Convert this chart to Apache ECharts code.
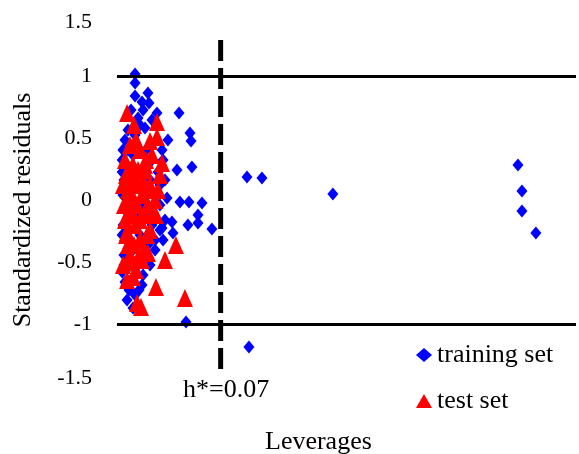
<!DOCTYPE html>
<html>
<head>
<meta charset="utf-8">
<script src="https://cdn.jsdelivr.net/npm/echarts@6/dist/echarts.min.js"></script>
<style>html,body{margin:0;padding:0;background:#fff}#c{width:579px;height:454px}</style>
</head>
<body>
<div id="c"></div>
<script>
// Leverage (x) and standardized residual (y) — training set
var trainLev = [0.0122,0.0122,0.0209,0.0122,0.0169,0.0216,0.0270,0.0419,0.0493,0.0500,0.0506,0.0405,0.0425,0.0486,0.0574,0.0547,0.0479,0.0547,0.0641,0.0338,0.0324,0.0371,0.0304,0.0378,0.0311,0.0466,0.0891,0.0878,0.0979,0.1458,0.2708,0.2735,0.2735,0.2829,
  0.0054,0.0040,0.0068,0.0047,0.0040,0.0054,0.0041,0.0061,0.0047,0.0074,0.0054,0.0081,0.0108,0.0047,0.0155,0.0196,0.0236,0.0277,0.0223,0.0189,0.0257,0.0290,0.0203,0.0236,0.0155,0.0209,0.0257,0.0142,0.0176,0.0122,0.0290,0.0324,
  0.0095,0.0142,0.0074,0.0108,0.0035,0.0088,0.0128,0.0035,0.0108,0.0035,0.0169,0.0304,0.0344,0.0176,
  0.0035,0.0074,0.0122,0.0189,0.0236,0.0270,0.0311,0.0290,0.0223,0.0095,0.0149,0.0068,0.0257,0.0182];
var trainRes = [1.016,0.944,0.863,0.839,0.790,0.782,0.702,0.702,0.540,0.476,0.266,0.242,-0.016,-0.016,-0.024,-0.121,-0.202,-0.185,-0.234,0.016,-0.161,-0.177,-0.226,-0.266,-0.323,-0.984,-1.185,0.185,0.177,0.048,0.282,0.073,-0.089,-0.266,
  0.484,0.403,0.282,0.161,0.040,-0.081,-0.202,-0.323,-0.444,-0.548,-0.661,-0.726,-0.871,-0.524,0.605,0.403,0.323,0.226,0.161,0.081,0.040,-0.040,-0.097,-0.202,-0.282,-0.363,-0.403,-0.500,-0.605,-0.766,0.121,0.161,
  0.726,0.661,0.565,0.363,0.226,0.000,-0.121,-0.282,-0.403,-0.581,-0.685,0.403,0.484,0.726,
  0.323,0.403,0.524,0.581,0.645,0.484,0.323,-0.242,-0.524,-0.645,-0.726,-0.806,-0.323,-0.040];
// Test set
var testLev = [0.0068,0.0270,0.0115,0.0270,0.0223,0.0304,0.0398,0.0324,0.0263,0.0459,0.0135,0.0162,0.0068,0.0108,0.0142,0.0209,
  0.0054,0.0088,0.0155,0.0189,0.0122,0.0074,0.0169,0.0223,0.0135,0.0088,0.0189,0.0054,0.0257,0.0122,0.0223,0.0155,0.0074,0.0189,0.0101,0.0142,0.0209,0.0068,0.0243,0.0290,0.0169,0.0101,0.0088,0.0236,0.0074,
  0.0040,0.0061,0.0108,0.0142,0.0176,0.0203,0.0047,0.0108,0.0155,0.0061,0.0115,0.0182,0.0088,0.0040,0.0128,0.0203,0.0263,0.0277,0.0128,0.0196];
var testRes = [0.702,0.629,0.605,0.508,0.476,0.298,-0.363,-0.484,-0.702,-0.790,-0.831,-0.863,-0.645,-0.621,-0.468,-0.427,
  0.323,0.242,0.403,0.282,0.161,0.081,0.040,0.121,-0.040,-0.081,-0.121,-0.161,0.000,-0.202,-0.242,-0.323,-0.363,0.242,0.040,0.121,-0.040,-0.258,-0.121,0.202,-0.484,-0.500,0.444,0.363,0.000,
  0.121,0.202,0.282,0.242,0.161,0.081,-0.040,-0.121,-0.161,-0.282,-0.363,-0.403,-0.444,-0.524,-0.565,-0.282,-0.121,0.081,0.484,0.323];
var hStar = 0.07;
var hStarSpan = [1.29, -1.37];
var refLines = [1, -1];
var yTicks = [-1.5, -1, -0.5, 0, 0.5, 1, 1.5];

function zip(a, b) { return a.map(function (v, i) { return [v, b[i]]; }); }
var F = 'Liberation Serif';
var chart = echarts.init(document.getElementById('c'));
chart.setOption({
  animation: false,
  backgroundColor: '#fff',
  grid: { left: 117, right: 3, top: 14, bottom: 68 },
  xAxis: { type: 'value', min: 0, max: 0.31, axisLine: { show: false }, axisTick: { show: false }, axisLabel: { show: false }, splitLine: { show: false } },
  yAxis: { type: 'value', min: yTicks[0], max: yTicks[yTicks.length - 1], interval: 0.5,
    axisLine: { show: false }, axisTick: { show: false }, splitLine: { show: false },
    axisLabel: { fontFamily: F, fontSize: 22, color: '#000', margin: 25,
      formatter: function (v) {
        if (v === yTicks[yTicks.length - 1]) return '{t|' + v + '}';
        if (v === yTicks[0]) return '{b|' + v + '}';
        return String(v);
      },
      rich: {
        t: { fontFamily: F, fontSize: 22, color: '#000', padding: [17, 0, 0, 0] },
        b: { fontFamily: F, fontSize: 22, color: '#000', padding: [0, 0, 15, 0] }
      } } },
  legend: { data: ['training set', 'test set'], orient: 'vertical', left: 411, top: 337, itemWidth: 16, itemHeight: 14, itemGap: 20,
    textStyle: { fontFamily: F, fontSize: 26, color: '#000' } },
  graphic: [
    { type: 'text', x: 23, y: 210, rotation: Math.PI / 2, style: { text: 'Standardized residuals', font: '26px "Liberation Serif"', fill: '#000', align: 'center', verticalAlign: 'middle' } },
    { type: 'text', left: 183, top: 377, style: { text: 'h*=0.07', font: '26px "Liberation Serif"', fill: '#000' } },
    { type: 'text', left: 265, top: 429, style: { text: 'Leverages', font: '26px "Liberation Serif"', fill: '#000' } }
  ],
  series: [
    { name: 'training set', type: 'scatter', symbol: 'diamond', symbolSize: [11, 13], itemStyle: { color: '#0000FF', opacity: 1 },
      data: zip(trainLev, trainRes), z: 3,
      markLine: { silent: true, symbol: 'none', label: { show: false }, lineStyle: { color: '#000', width: 3, type: 'solid' },
        data: refLines.map(function (v) { return { yAxis: v }; }) } },
    { name: 'test set', type: 'scatter', symbol: 'triangle', symbolSize: [16, 18], itemStyle: { color: '#FF0000', opacity: 1 },
      data: zip(testLev, testRes), z: 4 },
    { name: 'h*', type: 'line', symbol: 'none', data: [[hStar, hStarSpan[0]], [hStar, hStarSpan[1]]],
      lineStyle: { color: '#000', width: 5, type: [21, 7], cap: 'butt' }, z: 2, silent: true }
  ]
});
</script>
</body>
</html>
